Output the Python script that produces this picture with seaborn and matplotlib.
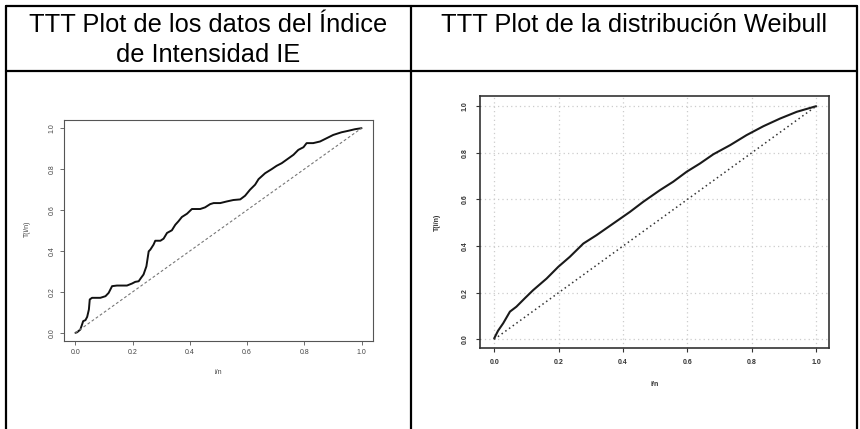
import matplotlib
matplotlib.use("Agg")
import matplotlib.pyplot as plt
from matplotlib.lines import Line2D
import seaborn as sns
import pandas as pd

# ---- data ----
ie_x = [0.0, 0.006, 0.017, 0.023, 0.027, 0.035, 0.041, 0.047, 0.05, 0.058, 0.087, 0.105, 0.116,
        0.128, 0.145, 0.18, 0.198, 0.209, 0.221, 0.229, 0.238, 0.248, 0.256, 0.262, 0.273,
        0.279, 0.297, 0.308, 0.32, 0.337, 0.349, 0.36, 0.372, 0.39, 0.407, 0.436, 0.453,
        0.471, 0.483, 0.506, 0.529, 0.552, 0.576, 0.593, 0.61, 0.628, 0.64, 0.663, 0.686,
        0.703, 0.721, 0.738, 0.762, 0.779, 0.797, 0.808, 0.831, 0.855, 0.878, 0.901, 0.93,
        0.953, 0.977, 1.0]
ie_y = [0.0, 0.003, 0.016, 0.04, 0.057, 0.062, 0.078, 0.114, 0.163, 0.171, 0.171, 0.179, 0.195,
        0.228, 0.231, 0.231, 0.241, 0.249, 0.252, 0.268, 0.285, 0.325, 0.398, 0.407, 0.431,
        0.45, 0.45, 0.46, 0.488, 0.501, 0.528, 0.545, 0.566, 0.582, 0.605, 0.605, 0.613,
        0.629, 0.634, 0.634, 0.642, 0.649, 0.652, 0.67, 0.699, 0.724, 0.751, 0.78, 0.8,
        0.816, 0.829, 0.846, 0.87, 0.894, 0.907, 0.927, 0.927, 0.935, 0.951, 0.967, 0.98,
        0.987, 0.995, 1.0]

wb_x = [0.0, 0.012, 0.028, 0.049, 0.069, 0.095, 0.121, 0.163, 0.199, 0.235, 0.277, 0.318, 0.37,
        0.422, 0.463, 0.515, 0.556, 0.598, 0.639, 0.681, 0.733, 0.784, 0.836, 0.888, 0.94, 1.0]
wb_y = [0.004, 0.037, 0.069, 0.119, 0.14, 0.176, 0.211, 0.261, 0.311, 0.354, 0.411, 0.447, 0.497,
        0.547, 0.59, 0.64, 0.676, 0.719, 0.754, 0.794, 0.833, 0.876, 0.914, 0.947, 0.976, 1.0]

diag_x = [0.0, 1.0]
diag_y = [0.0, 1.0]

ticks = [0.0, 0.2, 0.4, 0.6, 0.8, 1.0]
header_left = ["TTT Plot de los datos del Índice", "de Intensidad IE"]
header_right = "TTT Plot de la distribución Weibull"

sns.set_style("white")
plt.rcParams["font.family"] = ["Liberation Sans", "DejaVu Sans"]

W, H = 860, 429
fig = plt.figure(figsize=(W / 100, H / 100), dpi=100)

def fx(px):
    return px / W

def fy(py):
    return 1 - py / H

# ---- table lines ----
lw_tab = 1.6
for seg in [((6, 857), (6, 6)), ((6, 857), (70.5, 70.5)),
            ((6, 6), (6, 429)), ((411, 411), (6, 429)), ((857, 857), (6, 429))]:
    fig.add_artist(Line2D([fx(seg[0][0]), fx(seg[0][1])], [fy(seg[1][0]), fy(seg[1][1])],
                          transform=fig.transFigure, color="black", lw=lw_tab))

hfs = 18.3
fig.text(fx(208.5), fy(23), header_left[0], ha="center", va="center_baseline", fontsize=hfs,
         color="black")
fig.text(fx(208.5), fy(53), header_left[1], ha="center", va="center_baseline", fontsize=hfs,
         color="black")
fig.text(fx(634), fy(23), header_right, ha="center", va="center_baseline", fontsize=hfs,
         color="black")

# ---- left panel ----
ax1 = fig.add_axes([64 / W, 1 - 341 / H, 309 / W, 221 / H])
df1 = pd.DataFrame({"x": ie_x, "y": ie_y})
sns.lineplot(data=df1, x="x", y="y", ax=ax1, color="#111111", lw=1.4, sort=False)
ax1.plot(diag_x, diag_y, color="#777777", lw=0.8, ls=(0, (2.5, 2)))
ax1.set_xlim(-0.04, 1.04)
ax1.set_ylim(-0.04, 1.04)
ax1.set_xticks(ticks)
ax1.set_yticks(ticks)
for s in ax1.spines.values():
    s.set_color("#555555")
    s.set_linewidth(0.8)
ax1.tick_params(axis="both", direction="out", length=3, width=0.6, color="#555555",
                labelsize=5, labelcolor="#444444", pad=3, bottom=True, left=True)
for lab in ax1.get_yticklabels():
    lab.set_rotation(90)
    lab.set_va("center")
ax1.set_xlabel("i/n", fontsize=5, color="#444444")
ax1.set_ylabel("T(i/n)", fontsize=5, color="#444444")
ax1.xaxis.set_label_coords(0.5, -(373 - 341) / 221)
ax1.xaxis.label.set_va("center")
ax1.yaxis.set_label_coords(-(64 - 27) / 309, 0.51)
ax1.yaxis.label.set_va("center")

# ---- right panel ----
ax2 = fig.add_axes([480 / W, 1 - 348 / H, 349 / W, 252.3 / H])
df2 = pd.DataFrame({"x": wb_x, "y": wb_y})
ax2.grid(True, color="#cccccc", lw=0.9, ls=(0, (1, 2.5)))
sns.lineplot(data=df2, x="x", y="y", ax=ax2, color="#1a1a1a", lw=1.5, sort=False)
ax2.plot(diag_x, diag_y, color="#333333", lw=1.1, ls=(0, (1, 2)))
ax2.set_xlim(-0.044, 1.04)
ax2.set_ylim(-0.037, 1.045)
ax2.set_xticks(ticks)
ax2.set_yticks(ticks)
for s in ax2.spines.values():
    s.set_color("#333333")
    s.set_linewidth(1.2)
ax2.tick_params(axis="both", direction="out", length=3, width=0.8, color="#333333",
                labelsize=5, labelcolor="#333333", pad=5, bottom=True, left=True)
for lab in ax2.get_yticklabels():
    lab.set_rotation(90)
    lab.set_va("center")
    lab.set_fontweight("bold")
for lab in ax2.get_xticklabels():
    lab.set_fontweight("bold")
ax2.set_xlabel("i/n", fontsize=5, color="#333333", fontweight="bold")
ax2.set_ylabel("T(i/n)", fontsize=5, color="#333333", fontweight="bold")
ax2.xaxis.set_label_coords(0.5, -(384 - 348) / 252.3)
ax2.xaxis.label.set_va("center")
ax2.yaxis.set_label_coords(-(480 - 437) / 349, 0.5)
ax2.yaxis.label.set_va("center")

fig.savefig("out.png", dpi=100)
